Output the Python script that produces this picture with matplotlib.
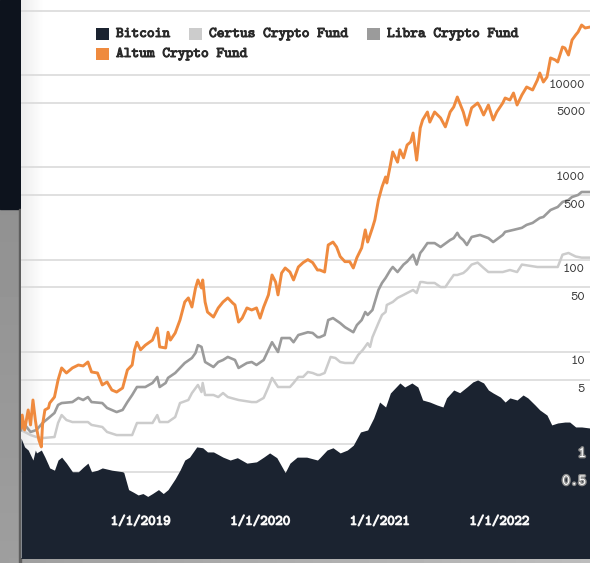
import numpy as np
import matplotlib.pyplot as plt
import matplotlib.patheffects as pe
from matplotlib.patches import Rectangle
from matplotlib.ticker import NullLocator
from matplotlib.transforms import blended_transform_factory, ScaledTranslation

# data (time as decimal year, value on log scale)
altum_t = [2018.00, 2018.01, 2018.03, 2018.06, 2018.08, 2018.10, 2018.12, 2018.13, 2018.15, 2018.17,
           2018.18, 2018.20, 2018.23, 2018.24, 2018.28, 2018.31, 2018.34, 2018.38, 2018.43, 2018.48,
           2018.52, 2018.56, 2018.59, 2018.64, 2018.68, 2018.72, 2018.76, 2018.80, 2018.85, 2018.89,
           2018.93, 2018.95, 2018.97, 2019.00, 2019.04, 2019.10, 2019.14, 2019.16, 2019.21, 2019.23,
           2019.25, 2019.29, 2019.33, 2019.37, 2019.40, 2019.43, 2019.46, 2019.48, 2019.51, 2019.52,
           2019.54, 2019.56, 2019.61, 2019.65, 2019.69, 2019.73, 2019.77, 2019.79, 2019.82, 2019.85,
           2019.89, 2019.93, 2019.97, 2020.00, 2020.03, 2020.07, 2020.10, 2020.13, 2020.15, 2020.18,
           2020.21, 2020.25, 2020.28, 2020.32, 2020.36, 2020.40, 2020.44, 2020.48, 2020.50, 2020.54,
           2020.57, 2020.61, 2020.64, 2020.67, 2020.71, 2020.75, 2020.78, 2020.81, 2020.85, 2020.88,
           2020.90, 2020.94, 2020.96, 2020.99, 2021.02, 2021.05, 2021.06, 2021.09, 2021.11, 2021.15,
           2021.17, 2021.20, 2021.23, 2021.26, 2021.28, 2021.31, 2021.34, 2021.36, 2021.40, 2021.42,
           2021.46, 2021.51, 2021.55, 2021.59, 2021.62, 2021.65, 2021.67, 2021.70, 2021.73, 2021.77,
           2021.82, 2021.84, 2021.87, 2021.91, 2021.95, 2021.98, 2022.03, 2022.05, 2022.09, 2022.12,
           2022.15, 2022.19, 2022.23, 2022.28, 2022.32, 2022.34, 2022.37, 2022.40, 2022.43, 2022.47,
           2022.49, 2022.53, 2022.55, 2022.58, 2022.61, 2022.64, 2022.66, 2022.69, 2022.72, 2022.76]
altum_v = [1.49, 2.06, 1.42, 2.34, 1.61, 3.00, 1.82, 1.49, 1.10, 0.93,
           1.61, 2.34, 2.46, 2.78, 3.23, 4.95, 6.68, 5.89, 6.68, 7.19,
           7.02, 7.75, 6.04, 5.89, 4.37, 4.71, 3.85, 3.66, 4.05, 6.35,
           7.19, 10.5, 12.7, 10.5, 11.8, 13.4, 18.1, 11.3, 11.0, 16.3,
           13.4, 16.0, 22.1, 34.7, 38.4, 30.6, 49.2, 60.1, 49.2, 60.1,
           34.7, 27.0, 23.8, 29.9, 34.7, 38.4, 33.9, 32.2, 21.0, 23.2,
           29.9, 28.4, 29.9, 23.2, 30.6, 41.4, 68.1, 57.1, 41.4, 71.5,
           81.1, 73.3, 60.1, 83.1, 92.8, 100, 92.8, 77.1, 77.1, 73.3,
           144, 155, 137, 108, 95, 95, 81.1, 105, 134, 210,
           155, 221, 269, 443, 613, 787, 677, 1060, 1470, 1140,
           1550, 1270, 1750, 1890, 2360, 1200, 2680, 3270, 3990, 3100,
           3990, 3440, 2750, 3990, 4520, 5800, 4990, 3990, 2880, 4420,
           4990, 4520, 3700, 4750, 3270, 3990, 4990, 5660, 5380, 6410,
           4750, 6100, 7450, 6910, 8870, 10560, 8430, 9560, 15380, 14620,
           13900, 20220, 19730, 16560, 24100, 27300, 29370, 35000, 32500, 33300]

libra_t = [2018.00, 2018.02, 2018.08, 2018.13, 2018.18, 2018.23, 2018.28, 2018.31, 2018.34, 2018.43,
           2018.48, 2018.52, 2018.56, 2018.59, 2018.68, 2018.72, 2018.80, 2018.85, 2018.89, 2018.93,
           2018.97, 2019.04, 2019.10, 2019.14, 2019.16, 2019.21, 2019.23, 2019.29, 2019.37, 2019.43,
           2019.46, 2019.48, 2019.51, 2019.54, 2019.61, 2019.65, 2019.69, 2019.73, 2019.79, 2019.82,
           2019.89, 2019.93, 2019.97, 2020.03, 2020.07, 2020.10, 2020.15, 2020.18, 2020.25, 2020.28,
           2020.32, 2020.40, 2020.44, 2020.48, 2020.50, 2020.54, 2020.57, 2020.61, 2020.67, 2020.71,
           2020.78, 2020.81, 2020.85, 2020.88, 2020.90, 2020.94, 2020.99, 2021.02, 2021.05, 2021.09,
           2021.11, 2021.15, 2021.20, 2021.23, 2021.28, 2021.31, 2021.34, 2021.36, 2021.40, 2021.46,
           2021.51, 2021.59, 2021.62, 2021.65, 2021.67, 2021.70, 2021.73, 2021.77, 2021.84, 2021.91,
           2021.95, 2022.03, 2022.05, 2022.12, 2022.19, 2022.23, 2022.28, 2022.34, 2022.37, 2022.43,
           2022.47, 2022.49, 2022.53, 2022.58, 2022.61, 2022.66, 2022.69, 2022.76]
libra_v = [1.42, 1.69, 1.35, 1.42, 1.69, 1.91, 2.17, 2.65, 2.78, 2.85,
           3.16, 3.00, 3.23, 2.85, 2.78, 2.46, 2.22, 2.34, 2.85, 3.40,
           4.15, 4.15, 4.59, 5.34, 4.15, 4.59, 5.21, 5.89, 7.56, 8.57,
           9.71, 11.8, 11.3, 7.75, 6.84, 7.75, 8.15, 8.79, 8.15, 6.68,
           7.56, 7.75, 7.19, 8.15, 10.5, 12.7, 9.95, 14.1, 14.1, 12.7,
           15.2, 16.3, 16.0, 14.4, 14.4, 15.2, 22.1, 23.2, 20.5, 18.5,
           16.3, 19.5, 22.1, 27.0, 25.1, 28.4, 46.8, 55.8, 63.2, 77.1,
           83.1, 73.3, 88.3, 95, 113, 88.3, 118, 127, 151, 151,
           137, 163, 171, 195, 176, 163, 144, 176, 185, 171,
           155, 185, 200, 210, 221, 238, 250, 283, 290, 345,
           363, 372, 421, 443, 478, 502, 541, 541]

certus_t = [2018.00, 2018.08, 2018.13, 2018.18, 2018.28, 2018.31, 2018.34, 2018.38, 2018.43, 2018.56,
            2018.59, 2018.68, 2018.72, 2018.80, 2018.93, 2018.97, 2019.10, 2019.14, 2019.16, 2019.23,
            2019.29, 2019.33, 2019.40, 2019.43, 2019.48, 2019.51, 2019.52, 2019.54, 2019.61, 2019.65,
            2019.69, 2019.73, 2019.82, 2019.93, 2019.97, 2020.03, 2020.07, 2020.10, 2020.15, 2020.25,
            2020.28, 2020.32, 2020.36, 2020.40, 2020.44, 2020.48, 2020.50, 2020.54, 2020.59, 2020.63,
            2020.67, 2020.71, 2020.78, 2020.82, 2020.86, 2020.90, 2020.92, 2020.94, 2020.99, 2021.02,
            2021.05, 2021.06, 2021.11, 2021.15, 2021.20, 2021.23, 2021.28, 2021.31, 2021.34, 2021.36,
            2021.40, 2021.46, 2021.51, 2021.55, 2021.59, 2021.62, 2021.65, 2021.70, 2021.73, 2021.77,
            2021.82, 2021.87, 2021.91, 2022.03, 2022.09, 2022.15, 2022.19, 2022.32, 2022.43, 2022.49,
            2022.53, 2022.58, 2022.64, 2022.69, 2022.76]
certus_v = [1.42, 1.25, 1.19, 1.16, 1.19, 1.69, 2.06, 1.82, 1.73, 1.73,
            1.61, 1.53, 1.35, 1.25, 1.25, 1.69, 1.69, 2.06, 1.73, 1.73,
            1.96, 2.78, 3.00, 3.57, 4.37, 3.66, 4.59, 3.40, 3.40, 3.23,
            3.57, 3.23, 3.00, 2.85, 2.85, 3.16, 4.15, 5.21, 4.15, 4.15,
            4.59, 5.34, 5.34, 6.04, 5.89, 5.61, 5.61, 5.89, 8.79, 8.57,
            7.75, 7.56, 7.56, 9.23, 10.5, 12.4, 11.3, 14.4, 20.5, 25.1,
            27.0, 32.2, 34.7, 38.4, 41.4, 43.4, 46.8, 43.4, 57.1, 57.1,
            55.8, 55.8, 50.4, 50.4, 60.1, 68.1, 68.1, 71.5, 77.1, 88.3,
            92.8, 81.1, 73.3, 73.3, 77.1, 73.3, 88.3, 83.1, 83.1, 83.1,
            113, 118, 108, 105, 105]

btc_t = [2018.00, 2018.03, 2018.06, 2018.10, 2018.12, 2018.13, 2018.17, 2018.20, 2018.23, 2018.24,
         2018.28, 2018.31, 2018.34, 2018.38, 2018.43, 2018.48, 2018.52, 2018.56, 2018.59, 2018.64,
         2018.68, 2018.76, 2018.85, 2018.86, 2018.90, 2018.94, 2018.98, 2019.02, 2019.06, 2019.10,
         2019.15, 2019.19, 2019.23, 2019.29, 2019.33, 2019.37, 2019.41, 2019.47, 2019.52, 2019.56,
         2019.61, 2019.69, 2019.75, 2019.81, 2019.89, 2019.97, 2020.03, 2020.08, 2020.14, 2020.21,
         2020.25, 2020.31, 2020.39, 2020.48, 2020.50, 2020.56, 2020.61, 2020.67, 2020.73, 2020.78,
         2020.84, 2020.90, 2020.95, 2021.00, 2021.05, 2021.09, 2021.13, 2021.17, 2021.21, 2021.27,
         2021.32, 2021.36, 2021.42, 2021.48, 2021.53, 2021.56, 2021.62, 2021.67, 2021.73, 2021.78,
         2021.82, 2021.87, 2021.91, 2021.95, 2022.01, 2022.05, 2022.09, 2022.15, 2022.20, 2022.24,
         2022.30, 2022.34, 2022.40, 2022.44, 2022.49, 2022.55, 2022.59, 2022.64, 2022.69, 2022.76]
btc_v = [1.16, 0.93, 0.86, 0.67, 0.86, 0.80, 0.86, 0.72, 0.59, 0.55,
         0.52, 0.67, 0.72, 0.62, 0.50, 0.50, 0.56, 0.62, 0.50, 0.52,
         0.55, 0.52, 0.50, 0.49, 0.32, 0.30, 0.28, 0.29, 0.27, 0.29,
         0.32, 0.29, 0.32, 0.42, 0.52, 0.67, 0.72, 0.93, 0.91, 0.82,
         0.82, 0.72, 0.67, 0.71, 0.62, 0.64, 0.72, 0.80, 0.71, 0.49,
         0.62, 0.72, 0.72, 0.67, 0.71, 0.86, 0.91, 0.80, 0.86, 0.97,
         1.35, 1.42, 1.91, 2.85, 2.52, 3.57, 4.05, 4.59, 4.15, 4.59,
         4.15, 3.00, 2.85, 2.65, 2.52, 3.16, 3.85, 3.60, 4.15, 4.71,
         4.95, 4.59, 3.85, 3.57, 3.23, 2.85, 3.16, 3.00, 3.40, 3.16,
         2.65, 2.34, 2.06, 1.61, 1.69, 1.73, 1.73, 1.53, 1.53, 1.49]

series_names = ['Bitcoin', 'Certus Crypto Fund', 'Libra Crypto Fund', 'Altum Crypto Fund']
series_colors = ['#1b2330', '#cccccc', '#9b9b9b', '#ef8a3e']

grid_vals = [0.5, 1, 5, 10, 50, 100, 500, 1000, 5000, 10000, 50000]
ytick_vals = [0.5, 1, 5, 10, 50, 100, 500, 1000, 5000, 10000]
ytick_labels = ['0.5', '1', '5', '10', '50', '100', '500', '1000', '5000', '10000']
xtick_vals = [2019, 2020, 2021, 2022]
xtick_labels = ['1/1/2019', '1/1/2020', '1/1/2021', '1/1/2022']

W, H = 590, 563
MONO = 'cmtt10'

fig = plt.figure(figsize=(W / 100, H / 100), dpi=100)
fig.patch.set_facecolor('#9a9a9a')

# photo-ish surroundings: dark top left, grey strips elsewhere
bg = fig.add_axes([0, 0, 1, 1], zorder=0)
bg.axis('off')
vgrad = np.linspace(0.57, 0.62, 64)[:, None]
bg.imshow(vgrad, cmap='gray', vmin=0, vmax=1, aspect='auto', extent=(0, 21, H, 209))
hgrad = np.linspace(0.62, 0.74, 64)[None, :]
bg.imshow(hgrad, cmap='gray', vmin=0, vmax=1, aspect='auto', extent=(0, W, H, 558))
bg.add_patch(Rectangle((0, 0), 21, 209, color='#0d131d'))
bg.add_patch(Rectangle((19, 209), 2, H - 209, color='#5e5e5e'))
bg.set_xlim(0, W)
bg.set_ylim(H, 0)

ax = fig.add_axes([21 / W, 5 / H, 569 / W, 558 / H], zorder=1)
ax.set_facecolor('white')
ax.set_yscale('log')
ax.set_ylim(0.058, 65400)
ax.set_xlim(2018.0, 2022.76)
for s in ax.spines.values():
    s.set_visible(False)

# faint shadow along the left edge of the white panel
shade = np.linspace(0.93, 1.0, 32)[None, :]
ax.imshow(shade, cmap='gray', vmin=0, vmax=1, aspect='auto', extent=(0, 0.04, 0, 1),
          transform=ax.transAxes, zorder=0.5)

ax.set_yticks(grid_vals)
ax.yaxis.set_minor_locator(NullLocator())
ax.set_xticks([])
ax.tick_params(axis='y', length=0, labelleft=False)
ax.grid(axis='y', color='#dadada', lw=1.2, zorder=1)
ax.set_axisbelow(True)

ax.fill_between(btc_t, btc_v, 0.01, color=series_colors[0], lw=0, zorder=2)
ax.plot(certus_t, certus_v, color=series_colors[1], lw=1.8, zorder=3)
ax.plot(libra_t, libra_v, color=series_colors[2], lw=1.9, zorder=4)
ax.plot(altum_t, altum_v, color=series_colors[3], lw=2.1, zorder=5)
ax.set_xlim(2018.0, 2022.76)
ax.set_ylim(0.058, 65400)

# y labels sit inside the plot, right aligned, just under each gridline
ytr = blended_transform_factory(ax.transAxes, ax.transData) + \
    ScaledTranslation(0, -0.10, fig.dpi_scale_trans)
for v, lab in zip(ytick_vals, ytick_labels):
    if v < 2:
        ax.text(0.993, v, lab, transform=ytr, ha='right', va='center', fontsize=11,
                family=MONO, color='white', zorder=6,
                path_effects=[pe.Stroke(linewidth=2.0, foreground='#8a8a8a'), pe.Normal()])
    else:
        ax.text(0.991, v, lab, transform=ytr, ha='right', va='center', fontsize=10,
                family=MONO, color='#3a3a3a', zorder=6)

# x labels inside the filled area
xtr = blended_transform_factory(ax.transData, ax.transAxes)
for v, lab in zip(xtick_vals, xtick_labels):
    ax.text(v, 0.064, lab, transform=xtr, ha='center', va='center', fontsize=10.3,
            family=MONO, color='white', zorder=6,
            path_effects=[pe.Stroke(linewidth=0.8, foreground='#e8e8e8'), pe.Normal()])

# legend laid out as a flow, like the original
legend_pos = [(96, 34), (189, 34), (367, 34), (96, 54)]
for (lx, ly), name, col in zip(legend_pos, series_names, series_colors):
    fig.add_artist(Rectangle((lx / W, 1 - (ly + 6) / H), 12.5 / W, 12.5 / H,
                             transform=fig.transFigure, facecolor=col, edgecolor='none', zorder=5))
    fig.text((lx + 20) / W, 1 - ly / H, name, ha='left', va='center', fontsize=10.6,
             family=MONO, color='#2a2a2a', zorder=6,
             path_effects=[pe.Stroke(linewidth=0.7, foreground='#2a2a2a'), pe.Normal()])

fig.savefig('out.png', dpi=100)
